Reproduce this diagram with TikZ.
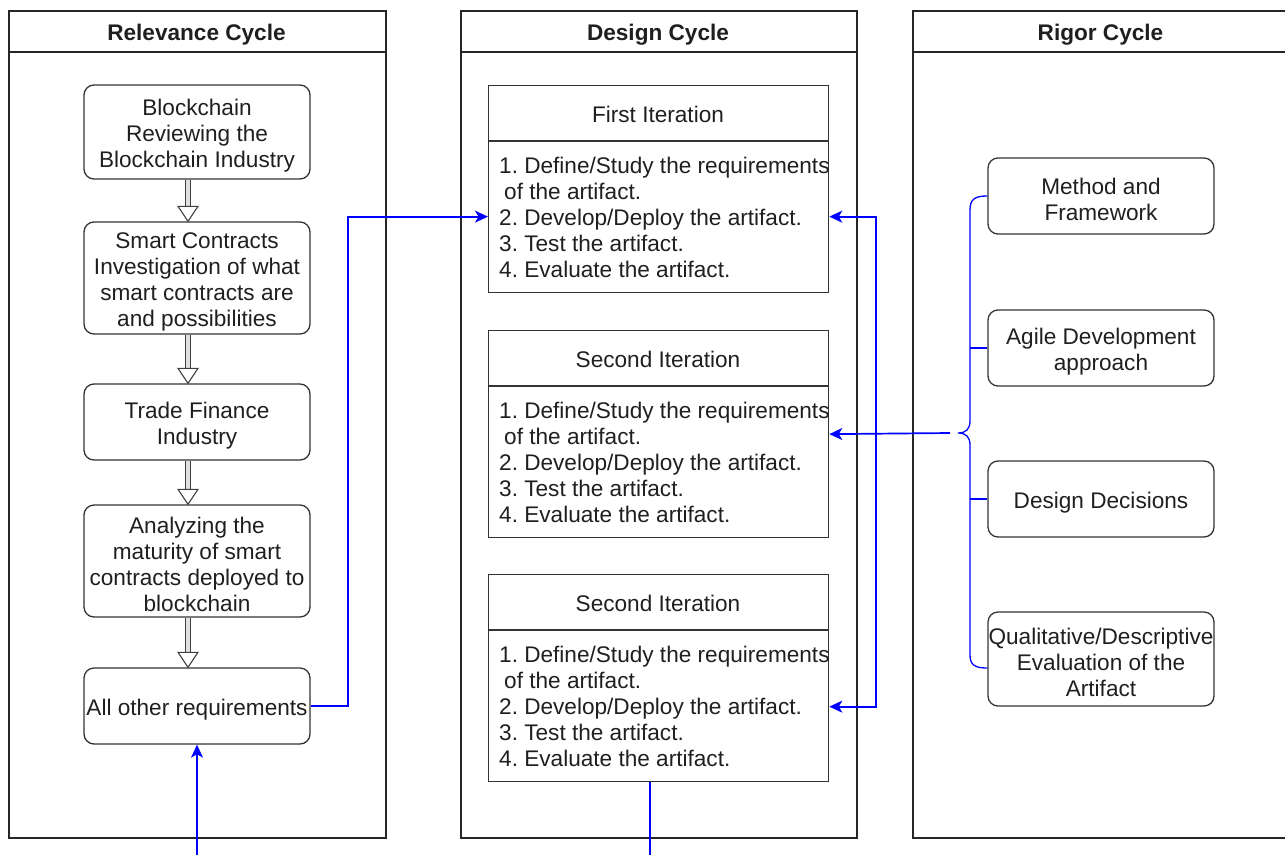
\documentclass[tikz,border=0pt]{standalone}
\usepackage{fontspec}
\setmainfont{Liberation Sans}
\usetikzlibrary{arrows.meta,calc}
\newcommand\myup{\rule{0pt}{22.8pt}}
\begin{document}
\begin{tikzpicture}[x=1pt,y=-1pt,
  every node/.style={font=\fontsize{22.6}{26}\selectfont\frenchspacing, text=black!88},
  panel/.style={draw=black!85, line width=1.6pt, anchor=north west, inner sep=0pt},
  pline/.style={draw=black!85, line width=1.6pt},
  bline/.style={draw=black!80, line width=1.3pt},
  hdr/.style={font=\bfseries\fontsize{22.6}{26}\selectfont},
  rbox/.style={draw=black!80, line width=1.3pt, rounded corners=10pt, minimum width=226pt, align=center, inner sep=1pt},
  ibox/.style={draw=black!80, line width=1.3pt, minimum width=340pt, minimum height=207pt, anchor=north west, inner sep=0pt},
  ibody/.style={anchor=north west, align=left, inner sep=0pt},
  blueln/.style={draw=blue, line width=1.7pt},
  bluearr/.style={blueln, -{Stealth[length=13pt,width=12pt,inset=3.5pt]}},
  bluearr2/.style={blueln, {Stealth[length=13pt,width=12pt,inset=3.5pt]}-{Stealth[length=13pt,width=12pt,inset=3.5pt]}},
  hshaft/.style={draw=black!75, line width=1.1pt, double=black!12, double distance=4.5pt},
  hhead/.style={draw=black!75, line width=1.1pt, fill=white, line join=miter}
]
\useasboundingbox (0,0) rectangle (1285,854);
\clip (0,0) rectangle (1285,854);

% panels
\node[panel, minimum width=377pt, minimum height=827pt] (relp) at (8,10) {};
\draw[pline] (relp.north west) ++(0,42) -- ++(377,0);
\node[hdr] (relh) at (196.5,35) {Relevance Cycle};

\node[panel, minimum width=396pt, minimum height=827pt] (desp) at (460,10) {};
\draw[pline] (desp.north west) ++(0,42) -- ++(396,0);
\node[hdr] (desh) at (658,35) {Design Cycle};

\node[panel, minimum width=377pt, minimum height=827pt] (rigp) at (912,10) {};
\draw[pline] (rigp.north west) ++(0,42) -- ++(377,0);
\node[hdr] (righ) at (1100.5,35) {Rigor Cycle};

% relevance boxes
\node[rbox, minimum height=94pt] (b1) at (197,132) {\myup Blockchain\\Reviewing the\\Blockchain Industry};
\node[rbox, minimum height=112pt] (b2) at (197,278) {\myup Smart Contracts\\Investigation of what\\smart contracts are\\and possibilities};
\node[rbox, minimum height=76pt] (b3) at (197,422) {\myup Trade Finance\\Industry};
\node[rbox, minimum height=112pt] (b4) at (197,561) {\myup Analyzing the\\maturity of smart\\contracts deployed to\\blockchain};
\node[rbox, minimum height=76pt] (b5) at (197,706) {\myup All other requirements};

\foreach \a/\b in {b1/b2,b2/b3,b3/b4,b4/b5}{
  \draw[hshaft] ([xshift=-9pt]\a.south) -- ([xshift=-9pt,yshift=13pt]\b.north);
  \draw[hhead] ([xshift=-19pt,yshift=15pt]\b.north) -- ([xshift=-9pt]\b.north) -- ([xshift=1pt,yshift=15pt]\b.north) -- cycle;
}

% iteration boxes
\foreach \n/\t/\ttl in {it1/85/First Iteration,it2/330/Second Iteration,it3/574/Second Iteration}{
  \node[ibox] (\n) at (488,\t) {};
  \draw[bline] (\n.north west) ++(0,56) -- ++(340,0);
  \node (\n h) at (658,\t+29) {\ttl};
  \begin{scope}
    \clip ([xshift=-0.6pt]\n.south east) rectangle ([yshift=-56pt]\n.north west);
    \node[ibody] (\n b) at (499,\t+72) {1. Define/Study the requirements\\\hspace{5pt}of the artifact.\\2. Develop/Deploy the artifact.\\3. Test the artifact.\\4. Evaluate the artifact.};
  \end{scope}
}

% rigor boxes
\node[rbox, minimum height=76pt] (r1) at (1101,196) {\myup Method and\\Framework};
\node[rbox, minimum height=76pt] (r2) at (1101,348) {\myup Agile Development\\approach};
\node[rbox, minimum height=76pt] (r3) at (1101,499) {\myup Design Decisions};
\node[rbox, minimum height=94pt] (r4) at (1101,659) {\myup\makebox[0pt][c]{Qualitative/Descriptive}\\Evaluation of the\\Artifact};

% blue connectors
\draw[bluearr] (b5.east) -- ++(37,0) |- ([yshift=-27.5pt]it1.west);
\draw[bluearr2] ([yshift=-27.5pt]it1.east) -- ++(47,0) |- ([yshift=-28.5pt]it3.east);
\coordinate (botL) at (197,860);
\draw[bluearr] (botL) -- (b5.south);
\coordinate (botR) at (650,860);
\draw[blueln] (it3.south -| botR) -- (botR);

% brace
\draw[blueln, line width=1.3pt] (r1.west) .. controls (975,196) and (970,199) .. (970,210)
  -- (970,421) .. controls (970,429) and (966,433) .. (958,433)
  .. controls (966,433) and (970,437) .. (970,445)
  -- (970,655) .. controls (970,665) and (975,668) .. ([yshift=-9pt]r4.west);
\draw[blueln, line width=1.3pt] (r2.west) -- ++(-17,0);
\draw[blueln, line width=1.3pt] (r3.west) -- ++(-17,0);
\coordinate (bt) at (950,433);
\draw[bluearr] (bt) -- (it2.east);
\end{tikzpicture}
\end{document}
